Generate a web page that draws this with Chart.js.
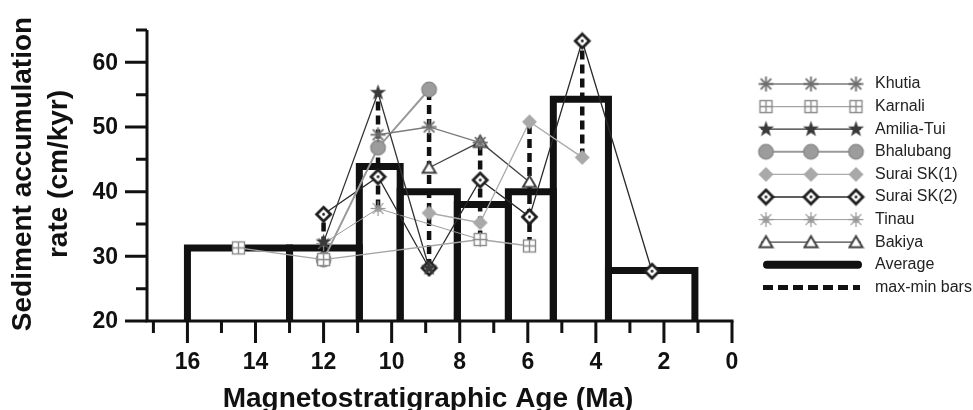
<!DOCTYPE html>
<html>
<head>
<meta charset="utf-8">
<script src="https://cdn.jsdelivr.net/npm/chart.js@4/dist/chart.umd.min.js"></script>
<style>
html,body{margin:0;padding:0;background:#fff}
canvas{display:block}
</style>
</head>
<body>
<canvas id="chart" width="973" height="410"></canvas>
<script>
// ages in Ma, rates in cm/kyr
const khutiaAge=[10.4,8.9,7.4];              const khutiaRate=[48.8,50.0,47.6];
const karnaliAge=[14.5,12,7.4,5.95];         const karnaliRate=[31.3,29.5,32.6,31.6];
const amiliaAge=[12,10.4,8.9];               const amiliaRate=[32.2,55.3,28.2];
const bhalubangAge=[12,10.4,8.9];            const bhalubangRate=[29.5,46.8,55.8];
const suraiSk1Age=[8.9,7.4,5.95,4.4];        const suraiSk1Rate=[36.7,35.2,50.8,45.3];
const suraiSk2Age=[12,10.4,8.9,7.4,5.95,4.4,2.35];
const suraiSk2Rate=[36.5,42.3,28.2,41.8,36.1,63.3,27.7];
const tinauAge=[12,10.4,7.4];                const tinauRate=[32.0,37.4,32.6];
const bakiyaAge=[8.9,7.4,5.95];              const bakiyaRate=[43.7,47.7,41.5];

// average steps
const avgFrom=[16,13,10.95,9.75,8.07,6.57,5.25,3.63];
const avgTo=[13,10.95,9.75,8.07,6.57,5.25,3.63,1.09];
const avgRate=[31.3,31.3,43.9,40.0,38.0,40.0,54.3,27.8];

// max-min bars
const rangeAge=[12,10.4,8.9,7.4,5.95,4.4];
const rangeMin=[29.5,37.4,28.2,32.6,31.6,45.3];
const rangeMax=[36.5,55.3,55.8,47.7,50.8,63.3];

const xMajor=[16,14,12,10,8,6,4,2,0];
const xMinor=[17,15,13,11,9,7,5,3,1];
const yMajor=[20,30,40,50,60];
const yMinor=[25,35,45,55,65];

function marker(size,draw){
    const c=document.createElement('canvas');
    c.width=size;c.height=size;
    const g=c.getContext('2d');
    g.translate(size/2,size/2);
    draw(g);
    return c;
}
function spokes(g,r,n,color,w){
    g.strokeStyle=color;g.lineWidth=w;
    for(let i=0;i<n;i++){
        const a=i*Math.PI/n;
        g.beginPath();
        g.moveTo(-r*Math.cos(a),-r*Math.sin(a));
        g.lineTo(r*Math.cos(a),r*Math.sin(a));
        g.stroke();
    }
}
const mAsterisk=marker(19,g=>{spokes(g,7.5,4,'#6e6e6e',1.8);});
const mSquare=marker(17,g=>{
    g.fillStyle='#fff';g.strokeStyle='#8a8a8a';g.lineWidth=1.4;
    g.fillRect(-6,-6,12,12);g.strokeRect(-6,-6,12,12);
    g.beginPath();g.moveTo(0,-6);g.lineTo(0,6);g.moveTo(-6,0);g.lineTo(6,0);g.stroke();
});
const mStar=marker(19,g=>{
    g.fillStyle='#3a3a3a';g.beginPath();
    for(let i=0;i<10;i++){
        const r=i%2?3.4:8.5,a=-Math.PI/2+i*Math.PI/5;
        g.lineTo(r*Math.cos(a),r*Math.sin(a));
    }
    g.closePath();g.fill();
});
const mCircle=marker(19,g=>{
    g.fillStyle='#9c9c9c';g.strokeStyle='#858585';g.lineWidth=1.2;
    g.beginPath();g.arc(0,0,7.3,0,Math.PI*2);g.fill();g.stroke();
});
const mDiamondGrey=marker(17,g=>{
    g.fillStyle='#a9a9a9';g.beginPath();
    g.moveTo(0,-7.5);g.lineTo(7.5,0);g.lineTo(0,7.5);g.lineTo(-7.5,0);g.closePath();g.fill();
});
const mDiamondOpen=marker(19,g=>{
    g.fillStyle='#fff';g.strokeStyle='#1e1e1e';g.lineWidth=2.8;g.beginPath();
    g.moveTo(0,-7);g.lineTo(7,0);g.lineTo(0,7);g.lineTo(-7,0);g.closePath();g.fill();g.stroke();
    g.fillStyle='#1e1e1e';g.beginPath();g.arc(0,0,1.4,0,Math.PI*2);g.fill();
});
const mSnow=marker(19,g=>{
    spokes(g,7.5,4,'#959595',1.2);
    g.strokeStyle='#959595';g.strokeRect(-2.5,-2.5,5,5);
});
const mTriangle=marker(17,g=>{
    g.fillStyle='#fff';g.strokeStyle='#404040';g.lineWidth=2;g.beginPath();
    g.moveTo(0,-6);g.lineTo(6.5,5);g.lineTo(-6.5,5);g.closePath();g.fill();g.stroke();
});

const series=[
    {label:'Khutia',age:khutiaAge,rate:khutiaRate,color:'#7a7a7a',width:1.3,marker:mAsterisk},
    {label:'Karnali',age:karnaliAge,rate:karnaliRate,color:'#a5a5a5',width:1.3,marker:mSquare},
    {label:'Amilia-Tui',age:amiliaAge,rate:amiliaRate,color:'#333',width:1.3,marker:mStar},
    {label:'Bhalubang',age:bhalubangAge,rate:bhalubangRate,color:'#999',width:2,marker:mCircle},
    {label:'Surai SK(1)',age:suraiSk1Age,rate:suraiSk1Rate,color:'#aaa',width:1.3,marker:mDiamondGrey},
    {label:'Surai SK(2)',age:suraiSk2Age,rate:suraiSk2Rate,color:'#2a2a2a',width:1.3,marker:mDiamondOpen},
    {label:'Tinau',age:tinauAge,rate:tinauRate,color:'#9a9a9a',width:1,marker:mSnow},
    {label:'Bakiya',age:bakiyaAge,rate:bakiyaRate,color:'#444',width:1.3,marker:mTriangle}
];

const datasets=[];
series.forEach(s=>{
    datasets.push({
        label:s.label,
        data:s.age.map((a,i)=>({x:a,y:s.rate[i]})),
        borderColor:s.color,borderWidth:s.width,
        pointStyle:s.marker,pointRadius:8,
        fill:false,clip:false
    });
});
rangeAge.forEach((a,i)=>{
    datasets.push({
        label:'max-min bars',
        data:[{x:a,y:rangeMin[i]},{x:a,y:rangeMax[i]}],
        borderColor:'#111',borderWidth:4.5,borderDash:[9,5],
        pointRadius:0,fill:false,clip:false
    });
});
avgFrom.forEach((s,i)=>{
    datasets.push({
        label:'Average',
        data:[{x:s,y:20},{x:s,y:avgRate[i]},{x:avgTo[i],y:avgRate[i]},{x:avgTo[i],y:20}],
        borderColor:'#111',borderWidth:7,borderJoinStyle:'miter',
        pointRadius:0,fill:false,clip:false
    });
});

const FONT='"Liberation Sans", Arial, sans-serif';

const decor={
    id:'decor',
    afterDraw(chart){
        const ctx=chart.ctx, xs=chart.scales.x, ys=chart.scales.y;
        const x0=xs.getPixelForValue(17.1)-3, y0=ys.getPixelForValue(20);
        const xr=xs.getPixelForValue(0), yt=ys.getPixelForValue(65);
        ctx.save();
        ctx.strokeStyle='#111';ctx.fillStyle='#111';ctx.lineWidth=3;ctx.lineCap='butt';
        // axes
        ctx.beginPath();
        ctx.moveTo(x0,yt);ctx.lineTo(x0,y0+1.5);
        ctx.moveTo(x0-1.5,y0);ctx.lineTo(xr+1.5,y0);
        ctx.stroke();
        // ticks
        ctx.beginPath();
        xMajor.forEach(v=>{const p=xs.getPixelForValue(v);ctx.moveTo(p,y0);ctx.lineTo(p,y0+22);});
        xMinor.forEach(v=>{const p=xs.getPixelForValue(v);ctx.moveTo(p,y0);ctx.lineTo(p,y0+12);});
        yMajor.forEach(v=>{const p=ys.getPixelForValue(v);ctx.moveTo(x0,p);ctx.lineTo(x0-22,p);});
        yMinor.forEach(v=>{const p=ys.getPixelForValue(v);ctx.moveTo(x0,p);ctx.lineTo(x0-11,p);});
        ctx.stroke();
        // tick labels
        ctx.font='bold 23px '+FONT;
        ctx.textAlign='center';ctx.textBaseline='middle';
        xMajor.forEach(v=>ctx.fillText(String(v),xs.getPixelForValue(v),363));
        ctx.textAlign='right';
        yMajor.forEach(v=>ctx.fillText(String(v),118,ys.getPixelForValue(v)+1));
        // titles
        ctx.font='bold 28px '+FONT;
        ctx.textAlign='center';ctx.textBaseline='alphabetic';
        ctx.fillText('Magnetostratigraphic Age (Ma)',428,407);
        ctx.save();
        ctx.translate(0,174);ctx.rotate(-Math.PI/2);
        ctx.textBaseline='middle';
        ctx.fillText('Sediment accumulation',0,23);
        ctx.fillText('rate (cm/kyr)',0,59);
        ctx.restore();
        // legend
        ctx.font='16px '+FONT;ctx.textAlign='left';ctx.textBaseline='middle';
        const rowY=i=>84+i*22.6;
        series.forEach((s,i)=>{
            const y=rowY(i);
            ctx.strokeStyle=s.color;ctx.lineWidth=s.width;
            ctx.beginPath();ctx.moveTo(761,y);ctx.lineTo(861,y);ctx.stroke();
            [766,811,856].forEach(mx=>ctx.drawImage(s.marker,mx-s.marker.width/2,y-s.marker.height/2));
            ctx.fillStyle='#222';ctx.fillText(s.label,875,y);
        });
        let y=rowY(8);
        ctx.strokeStyle='#111';ctx.lineWidth=8;ctx.lineCap='round';
        ctx.beginPath();ctx.moveTo(767,y);ctx.lineTo(858,y);ctx.stroke();
        ctx.fillText('Average',875,y);
        y=rowY(9);
        ctx.lineWidth=5;ctx.lineCap='butt';ctx.setLineDash([10,5]);
        ctx.beginPath();ctx.moveTo(763,y);ctx.lineTo(860,y);ctx.stroke();
        ctx.setLineDash([]);
        ctx.fillText('max-min bars',875,y);
        ctx.restore();
    }
};

new Chart(document.getElementById('chart').getContext('2d'),{
    type:'line',
    data:{datasets:datasets},
    options:{
        responsive:false,
        animation:false,
        devicePixelRatio:1,
        layout:{padding:{left:150,right:241,top:30,bottom:89}},
        elements:{line:{tension:0}},
        scales:{
            x:{type:'linear',min:0,max:17.1,reverse:true,display:false},
            y:{type:'linear',min:20,max:65,display:false}
        },
        plugins:{legend:{display:false},tooltip:{enabled:false}}
    },
    plugins:[decor]
});
</script>
</body>
</html>
